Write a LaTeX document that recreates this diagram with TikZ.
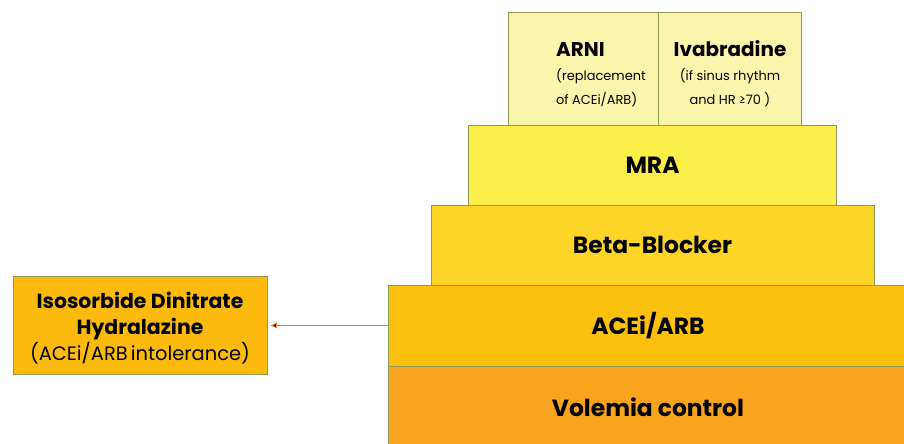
\documentclass[tikz,border=0pt]{standalone}
\usepackage{fontspec}
\setmainfont{Poppins}
\usetikzlibrary{positioning,arrows.meta}

\definecolor{edgegreen}{RGB}{142,154,78}
\definecolor{arnicol}{RGB}{250,245,172}
\definecolor{mracol}{RGB}{252,238,72}
\definecolor{betacol}{RGB}{253,213,40}
\definecolor{aceicol}{RGB}{252,193,13}
\definecolor{volcol}{RGB}{249,163,30}
\definecolor{isocol}{RGB}{251,186,12}
\definecolor{arrowcol}{RGB}{237,125,49}

\newcommand{\notefont}{\fontsize{13}{22.5}\selectfont\mdseries}
\newcommand{\indt}{\hspace*{35bp}}

\begin{document}
\begin{tikzpicture}[x=1bp,y=-1bp,
  layer/.style={draw=edgegreen,line width=0.7bp,outer sep=0pt,inner sep=0pt,
    align=center,font=\fontsize{23.5}{28}\selectfont\bfseries},
  top/.style={layer,fill=arnicol,minimum height=113bp,font=\fontsize{20}{24}\selectfont\bfseries}]

  \useasboundingbox (0,0) rectangle (904,444);

  \node[layer,fill=volcol,minimum width=520bp,minimum height=82bp,anchor=north west] (volemia) at (388,366) {Volemia control};
  \node[layer,fill=aceicol,minimum width=520bp,minimum height=81bp] (acei) [above=0pt of volemia] {ACEi/ARB};
  \node[layer,fill=betacol,minimum width=443bp,minimum height=80bp,xshift=4.5bp] (beta) [above=0pt of acei] {Beta-Blocker};
  \node[layer,fill=mracol,minimum width=368bp,minimum height=80bp] (mra) [above=0pt of beta] {MRA};
  \node[top,minimum width=150bp,xshift=-69bp,align=left] (arni) [above=0pt of mra]
    {\indt\rule{0pt}{26bp}ARNI\\\notefont\indt(replacement\\\notefont\indt of ACEi/ARB)};
  \node[top,minimum width=143bp] (ivab) [right=0pt of arni]
    {\rule{0pt}{26bp}Ivabradine\\\notefont (if sinus rhythm\\\notefont and HR ≥70 )};

  \node[layer,fill=isocol,minimum width=254bp,minimum height=98bp,font=\fontsize{20.5}{26}\selectfont\bfseries] (iso) [left=121bp of acei]
    {\rule{0pt}{21.5bp}Isosorbide Dinitrate\\Hydralazine\\\fontsize{19.5}{26}\selectfont\mdseries (ACEi/ARB\,intolerance)};

  \path[-{Latex[length=7bp,width=6bp]},draw=arrowcol,line width=0.8bp,shorten >=3bp]
    (acei) edge (iso);

\end{tikzpicture}
\end{document}
